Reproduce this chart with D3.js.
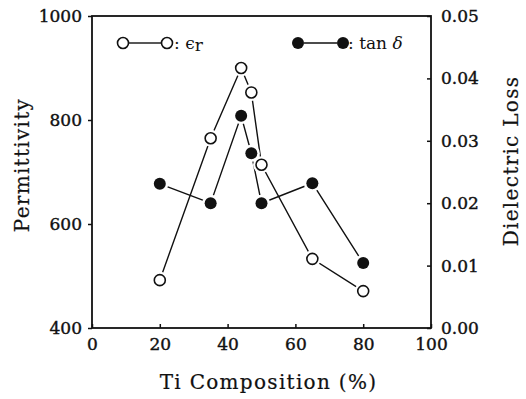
<!DOCTYPE html>
<html>
<head>
<meta charset="utf-8">
<script src="https://cdn.jsdelivr.net/npm/d3@7"></script>
<style>
  body { margin: 0; background: #fff; }
  text { font-family: "DejaVu Serif", serif; fill: #111; }
  .axis-label { font-size: 20px; letter-spacing: 1.3px; stroke: #111; stroke-width: 0.2; }
</style>
</head>
<body>
<svg id="chart" width="526" height="399"></svg>
<script>
// Data
const composition = [20, 35, 44, 47, 50, 65, 80];
const permittivity = [492, 765, 900, 853, 714, 533, 471];
const dielectricLoss = [0.0231, 0.0200, 0.0340, 0.0280, 0.0200, 0.0232, 0.0104];

const xTicks = [0, 20, 40, 60, 80, 100];
const leftTicks = [400, 600, 800, 1000];
const rightTicks = [0, 0.01, 0.02, 0.03, 0.04, 0.05];

const svg = d3.select("#chart");
const width = +svg.attr("width");
const height = +svg.attr("height");
const margin = {top: 16, right: 95, bottom: 71, left: 92};
const innerW = width - margin.left - margin.right;
const innerH = height - margin.top - margin.bottom;

const g = svg.append("g").attr("transform", `translate(${margin.left},${margin.top})`);

// Scales
const x = d3.scaleLinear().domain([0, 100]).range([0, innerW]);
const yL = d3.scaleLinear().domain([400, 1000]).range([innerH, 0]);
const yR = d3.scaleLinear().domain([0, 0.05]).range([innerH, 0]);

// Axes
const xAxis = g.append("g")
  .attr("transform", `translate(0,${innerH})`)
  .call(d3.axisBottom(x).tickValues(xTicks).tickSize(-4).tickPadding(10).tickFormat(d3.format("d")));

const lAxis = g.append("g")
  .call(d3.axisLeft(yL).tickValues(leftTicks).tickSize(4).tickPadding(6).tickFormat(d3.format("d")));

const rAxis = g.append("g")
  .attr("transform", `translate(${innerW},0)`)
  .call(d3.axisRight(yR).tickValues(rightTicks).tickSize(-4).tickPadding(10).tickFormat(d3.format(".2f")));

[xAxis, lAxis, rAxis].forEach(a => {
  a.select(".domain").remove();
  a.selectAll("line").attr("stroke", "#111").attr("stroke-width", 1.5);
  a.selectAll("text")
    .style("font-size", "17px").style("font-family", "'DejaVu Serif', serif")
    .attr("fill", "#111").attr("stroke", "#111").attr("stroke-width", 0.4);
});

// Frame
g.append("rect")
  .attr("width", innerW).attr("height", innerH)
  .attr("fill", "none").attr("stroke", "#111").attr("stroke-width", 1.8);

// Axis labels
g.append("text")
  .attr("class", "axis-label")
  .attr("x", innerW / 2 + 7).attr("y", innerH + 61)
  .attr("text-anchor", "middle")
  .text("Ti Composition (%)");

g.append("text")
  .attr("class", "axis-label")
  .attr("transform", "rotate(-90)")
  .attr("x", -149).attr("y", -63)
  .attr("text-anchor", "middle")
  .text("Permittivity");

g.append("text")
  .attr("class", "axis-label")
  .attr("transform", "rotate(-90)")
  .attr("x", -145).attr("y", innerW + 87)
  .attr("text-anchor", "middle")
  .text("Dielectric Loss");

// Lines
const permPts = composition.map((c, i) => [x(c), yL(permittivity[i])]);
const lossPts = composition.map((c, i) => [x(c), yR(dielectricLoss[i])]);
const line = d3.line();

g.append("path").attr("d", line(permPts))
  .attr("fill", "none").attr("stroke", "#111").attr("stroke-width", 1.4);
g.append("path").attr("d", line(lossPts))
  .attr("fill", "none").attr("stroke", "#111").attr("stroke-width", 1.4);

// White halos give the small gaps where lines meet markers
g.selectAll("circle.halo")
  .data(permPts.concat(lossPts))
  .join("circle")
    .attr("class", "halo")
    .attr("cx", d => d[0]).attr("cy", d => d[1])
    .attr("r", 8.5).attr("fill", "#fff");

g.selectAll("circle.perm")
  .data(permPts)
  .join("circle")
    .attr("class", "perm")
    .attr("cx", d => d[0]).attr("cy", d => d[1])
    .attr("r", 5.5).attr("fill", "#fff").attr("stroke", "#111").attr("stroke-width", 1.6);

g.selectAll("circle.loss")
  .data(lossPts)
  .join("circle")
    .attr("class", "loss")
    .attr("cx", d => d[0]).attr("cy", d => d[1])
    .attr("r", 6).attr("fill", "#111");

// Legend
const leg = g.append("g").attr("transform", "translate(0,27)");
leg.append("line").attr("x1", 37).attr("x2", 69).attr("stroke", "#111").attr("stroke-width", 1.4);
leg.selectAll("circle.lo").data([31, 75]).join("circle").attr("class", "lo")
  .attr("cx", d => d).attr("r", 5.5).attr("fill", "#fff").attr("stroke", "#111").attr("stroke-width", 1.6);
const epsText = leg.append("text").attr("x", 82).attr("y", 6).style("font-size", "17px");
epsText.append("tspan").text(": ϵ");
epsText.append("tspan").attr("dy", 2).text("r");

leg.append("line").attr("x1", 212).attr("x2", 245).attr("stroke", "#111").attr("stroke-width", 1.4);
leg.selectAll("circle.lf").data([206, 251]).join("circle").attr("class", "lf")
  .attr("cx", d => d).attr("r", 6).attr("fill", "#111");
const tanText = leg.append("text").attr("x", 256).attr("y", 6).style("font-size", "17px");
tanText.append("tspan").text(": tan ");
tanText.append("tspan").style("font-style", "italic").text("δ");
</script>
</body>
</html>
